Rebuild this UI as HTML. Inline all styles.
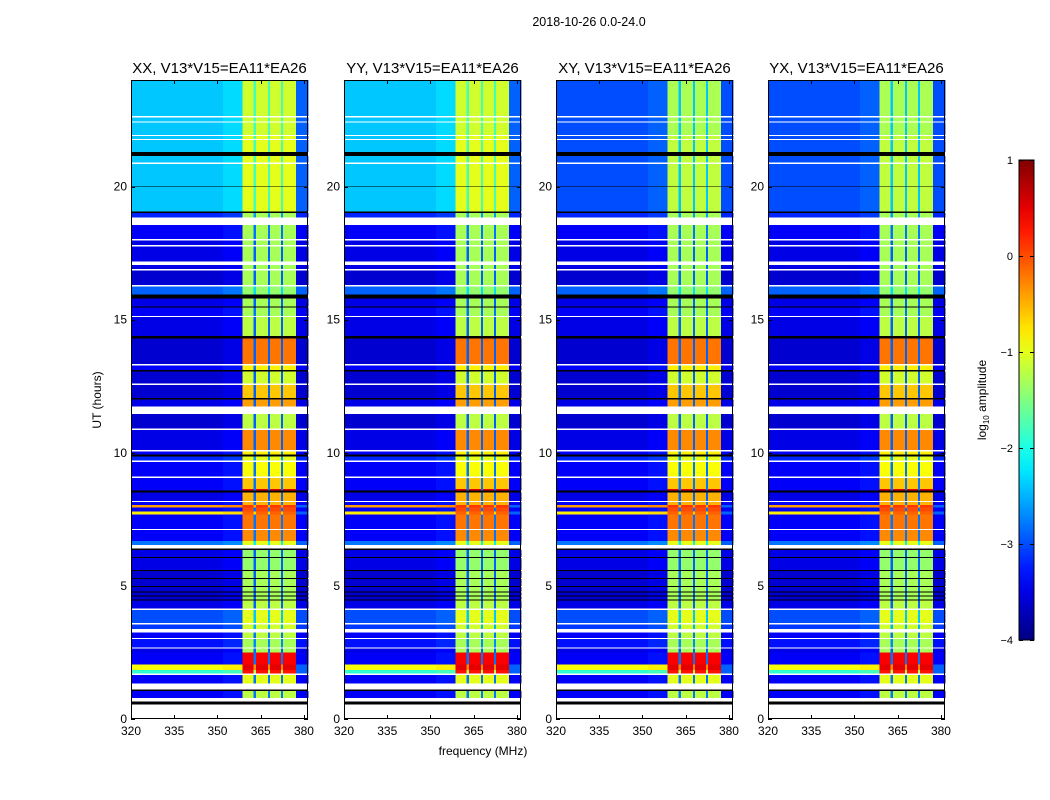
<!DOCTYPE html>
<html><head><meta charset="utf-8">
<style>
html,body{margin:0;padding:0;background:#fff;}
svg{display:block;font-family:"Liberation Sans",sans-serif;}
</style></head>
<body>
<svg id="fig" width="1050" height="800" viewBox="0 0 1050 800">
<rect width="1050" height="800" fill="#fff"/>
<text x="589" y="26" font-size="12.5" text-anchor="middle">2018-10-26 0.0-24.0</text>
<g id="panels"></g>
<text x="101" y="400" font-size="12" text-anchor="middle" transform="rotate(-90 101 400)">UT (hours)</text>
<text x="483" y="755" font-size="12" text-anchor="middle">frequency (MHz)</text>
<g id="cbar"></g>
</svg>
<script>
// ---- data ----
const panelTitles = ["XX, V13*V15=EA11*EA26","YY, V13*V15=EA11*EA26","XY, V13*V15=EA11*EA26","YX, V13*V15=EA11*EA26"];
const panelTopOffset = [0, 0, -0.6, -0.6];
const xTicks = [320, 335, 350, 365, 380];
const yTicks = [0, 5, 10, 15, 20];
const cbTicks = [1, 0, -1, -2, -3, -4];
const colEdges = [320, 352, 358.6, 362.5, 363.3, 367.6, 368.3, 372.1, 372.8, 377.2, 381.4];
const colType = ["bg","haze","band","gap","band","gap","band","gap","band","edge"];
const rowEdges = [0,0.55,0.65,0.8,1.05,1.1,1.35,1.65,1.72,1.85,2.05,2.5,2.65,2.7,3.0,3.05,3.25,3.4,3.55,3.62,4.1,4.17,4.45,4.5,4.6,4.65,4.75,4.8,4.95,5.0,5.25,5.3,5.55,5.6,6.05,6.1,6.35,6.4,6.55,6.7,7.1,7.15,7.7,7.8,7.95,8.05,8.15,8.2,8.5,8.6,8.65,9.05,9.12,9.65,9.72,9.85,9.95,10.05,10.12,10.85,10.92,11.45,11.75,12.0,12.07,12.55,12.62,13.05,13.12,13.28,13.35,14.3,14.4,15.1,15.15,15.45,15.5,15.8,15.95,16.25,16.32,16.85,16.92,17.05,17.2,17.75,17.82,17.97,18.04,18.55,18.85,19.0,19.08,20.0,20.03,20.85,20.92,21.15,21.3,21.75,21.8,21.9,21.95,22.4,22.45,22.6,22.65,24];
const rowFlag = ["w","k","w","n","k","w","n","w","n","n","n","n","w","n","w","n","w","n","w","n","w","n","k","n","k","n","k","n","k","n","k","n","k","n","k","n","k","w","n","n","w","n","n","n","n","n","w","n","k","n","n","w","n","w","n","k","n","w","n","w","n","w","n","k","n","w","n","k","n","w","n","k","n","w","n","k","n","k","n","w","n","w","n","w","n","w","n","w","n","w","n","k","n","k","n","w","n","k","n","w","n","w","n","w","n","w","n"];
const rowBg = [0,0,0,-3.4,0,0,-3.4,0,-1.9,-0.9,-3.4,-3.5,0,-3.3,0,-3.4,0,-3.1,0,-3.0,0,-3.5,0,-3.6,0,-3.6,0,-3.6,0,-3.6,0,-3.6,0,-3.5,0,-3.5,0,0,-2.8,-3.4,0,-3.4,-0.8,-3.4,-0.4,-3.4,0,-3.5,0,-3.4,-3.4,0,-3.4,0,-3.2,0,-3.4,0,-3.5,0,-3.6,0,-3.5,0,-3.6,0,-3.6,0,-3.4,0,-3.6,0,-3.5,0,-3.4,0,-3.5,0,-2.9,0,-3.6,0,-3.5,0,-3.5,0,-3.5,0,-3.4,0,-3.2,0,-2.4,0,-2.4,0,-2.4,0,-2.4,0,-2.4,0,-2.4,0,-2.4,0,-2.4];
const rowBand = [0,0,0,-1.2,0,0,-1.0,0,0.3,0.5,0.4,-1.3,0,-1.3,0,-1.2,0,-1.1,0,-1.0,0,-1.2,0,-1.3,0,-1.3,0,-1.3,0,-1.3,0,-1.3,0,-1.4,0,-1.4,0,0,-1.0,-0.3,0,-0.2,-0.1,0.0,0.1,-0.5,0,-0.5,0,0.5,-0.6,0,-0.9,0,-1.0,0,-0.8,0,-0.3,0,-1.2,0,-0.4,0,-0.6,0,-1.1,0,-0.8,0,-0.2,0,-1.2,0,-1.3,0,-1.3,0,-1.4,0,-1.3,0,-1.3,0,-1.3,0,-1.3,0,-1.3,0,-1.3,0,-1.0,0,-1.0,0,-1.0,0,-1.0,0,-1.0,0,-1.1,0,-1.1,0,-1.1];

// ---- layout ----
const panelX = [131, 344, 556, 768];
const PW = 177, PT = 80, PB = 719;
const FMIN = 320, FMAX = 381.4, TMAX = 24;
const NS = "http://www.w3.org/2000/svg";

function jet(v){
  let t = (v + 4) / 5; t = Math.max(0, Math.min(1, t));
  const c = x => Math.round(255 * Math.max(0, Math.min(1, x)));
  return `rgb(${c(1.5-Math.abs(4*t-3))},${c(1.5-Math.abs(4*t-2))},${c(1.5-Math.abs(4*t-1))})`;
}
function mk(tag, attrs, parent){
  const e = document.createElementNS(NS, tag);
  for (const k in attrs) e.setAttribute(k, attrs[k]);
  parent.appendChild(e); return e;
}
const panelsG = document.getElementById('panels');

panelTitles.forEach((title, p) => {
  const x0 = panelX[p];
  const xs = f => x0 + (f - FMIN) / (FMAX - FMIN) * PW;
  const ys = t => PB - t / TMAX * (PB - PT);
  const g = mk('g', {}, panelsG);
  
  
  const hm = mk('g', {'shape-rendering':'crispEdges'}, g);
  
  
  for (let r = 0; r < rowFlag.length; r++) {
    const yTop = ys(rowEdges[r+1]), yBot = ys(rowEdges[r]);
    if (rowFlag[r] !== 'n') {
      const c = mk('rect', {x: xs(FMIN), y: yTop, width: PW, height: yBot - yTop, fill: rowFlag[r] === 'w' ? '#fff' : '#000'}, hm);
      
      
      continue;
    }
    let bg = rowBg[r];
    let band = rowBand[r];
    if (bg > -2.6 && bg < -2.0) { bg += panelTopOffset[p]; band += panelTopOffset[p] * 0.3; }
    for (let k = 0; k < colType.length; k++) {
      let v;
      const ty = colType[k];
      if (ty === 'bg') v = bg;
      else if (ty === 'haze') v = bg + 0.1;
      else if (ty === 'band') v = band;
      else if (ty === 'gap') v = Math.min(band - 0.6, Math.max(bg + 0.6, -2.9));
      else v = Math.min(bg, -2.9);
      const xa = xs(colEdges[k]), xb = xs(colEdges[k+1]);
      const c = mk('rect', {x: xa, y: yTop, width: xb - xa + 0.3, height: yBot - yTop + 0.3, fill: jet(v)}, hm);
      
      
    }
  }
  const frame = mk('rect', {x: x0 + 0.5, y: PT + 0.5, width: PW - 1, height: PB - PT - 1, fill: 'none', stroke: '#000', 'stroke-width': 1}, g);
  
  
  const tt = mk('text', {x: x0 + PW/2, y: 73, 'font-size': 15, 'text-anchor': 'middle'}, g);
  tt.textContent = title;
  
  
  xTicks.forEach(f => {
    const x = Math.round(xs(f)) + 0.5;
    mk('line', {x1: x, x2: x, y1: PB, y2: PB - 4, stroke: '#000'}, g);
    mk('line', {x1: x, x2: x, y1: PT, y2: PT + 4, stroke: '#000'}, g);
    const t = mk('text', {x: xs(f), y: 735, 'font-size': 12, 'text-anchor': 'middle'}, g);
    t.textContent = f;
    
    
  });
  yTicks.forEach(h => {
    const y = Math.round(ys(h)) + 0.5;
    mk('line', {x1: x0, x2: x0 + 4, y1: y, y2: y, stroke: '#000'}, g);
    mk('line', {x1: x0 + PW, x2: x0 + PW - 4, y1: y, y2: y, stroke: '#000'}, g);
    const t = mk('text', {x: x0 - 4, y: ys(h) + 4, 'font-size': 12, 'text-anchor': 'end'}, g);
    t.textContent = h;
    
    
  });
});

// colorbar
const cb = document.getElementById('cbar');
const CBX = 1019, CBW = 15, CBT = 160, CBB = 640;
const defs = mk('defs', {}, cb);
const lg = mk('linearGradient', {id: 'jetg', x1: 0, y1: 1, x2: 0, y2: 0}, defs);
for (let i = 0; i <= 20; i++) mk('stop', {offset: i/20, 'stop-color': jet(-4 + 5*i/20)}, lg);
const bar = mk('rect', {x: CBX, y: CBT, width: CBW, height: CBB - CBT, fill: 'url(#jetg)', stroke: '#000', 'stroke-width': 1}, cb);


const cy = v => CBB - (v + 4) / 5 * (CBB - CBT);
cbTicks.forEach(v => {
  const y = Math.round(cy(v)) + 0.5;
  mk('line', {x1: CBX, x2: CBX + 4, y1: y, y2: y, stroke: '#000'}, cb);
  mk('line', {x1: CBX + CBW, x2: CBX + CBW - 4, y1: y, y2: y, stroke: '#000'}, cb);
  const t = mk('text', {x: 1013, y: cy(v) + 4, 'font-size': 11, 'text-anchor': 'end'}, cb);
  t.textContent = v < 0 ? '\u2212' + Math.abs(v) : String(v);
  
  
});
const cl = mk('text', {x: 986, y: 400, 'font-size': 12, 'text-anchor': 'middle', transform: 'rotate(-90 986 400)'}, cb);
cl.innerHTML = 'log<tspan font-size="8" dy="3">10</tspan><tspan dy="-3"> amplitude</tspan>';


</script>
</body></html>
